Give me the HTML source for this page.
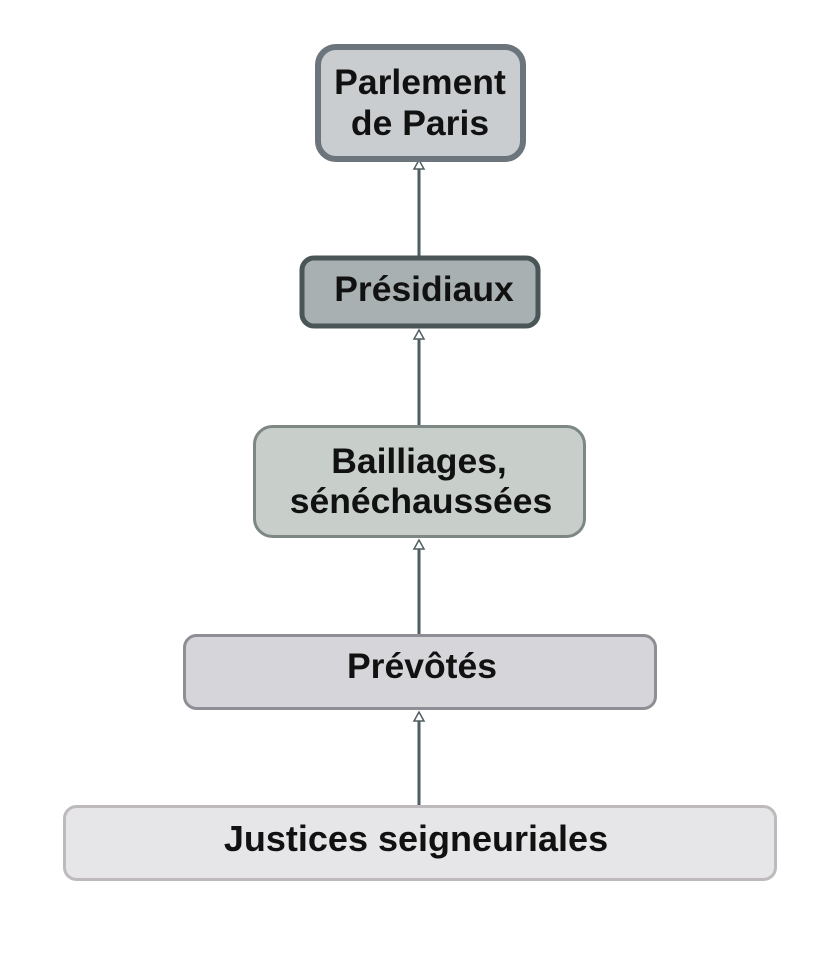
<!DOCTYPE html>
<html><head><meta charset="utf-8"><style>
html,body{margin:0;padding:0;background:#fff;}
svg{display:block;}
text{font-family:"Liberation Sans",sans-serif;font-weight:bold;font-size:35.5px;fill:#111;text-anchor:middle;}
</style></head><body>
<svg width="837" height="977" viewBox="0 0 837 977">
<g stroke="#4f5e60" stroke-width="3">
<line x1="419" y1="168" x2="419" y2="256"/>
<line x1="419" y1="338" x2="419" y2="425"/>
<line x1="419" y1="548" x2="419" y2="634"/>
<line x1="419" y1="720" x2="419" y2="805"/>
</g>
<g fill="#fff" stroke="#4f5e60" stroke-width="1.5">
<polygon points="419,160 414,169 424,169"/>
<polygon points="419,330 414,339 424,339"/>
<polygon points="419,540 414,549 424,549"/>
<polygon points="419,712 414,721 424,721"/>
</g>
<rect x="318" y="47" width="205" height="112" rx="18" fill="#c9cdd0" stroke="#6c757b" stroke-width="6"/>
<rect x="302" y="258" width="236" height="68" rx="12" fill="#a9b0b2" stroke="#4a5557" stroke-width="5"/>
<rect x="254.5" y="426.5" width="330" height="110" rx="18" fill="#c8cfcb" stroke="#7d8784" stroke-width="3"/>
<rect x="184.5" y="635.5" width="471" height="73" rx="12" fill="#d6d6da" stroke="#8f8e95" stroke-width="3"/>
<rect x="64.5" y="806.5" width="711" height="73" rx="12" fill="#e6e6e8" stroke="#bdb9bd" stroke-width="3"/>
<text x="420" y="94">Parlement</text>
<text x="420" y="135">de Paris</text>
<text x="424" y="301">Présidiaux</text>
<text x="419" y="473">Bailliages,</text>
<text x="421" y="513">sénéchaussées</text>
<text x="422" y="678">Prévôtés</text>
<text x="416" y="851" style="font-size:36px">Justices seigneuriales</text>
</svg>
</body></html>
